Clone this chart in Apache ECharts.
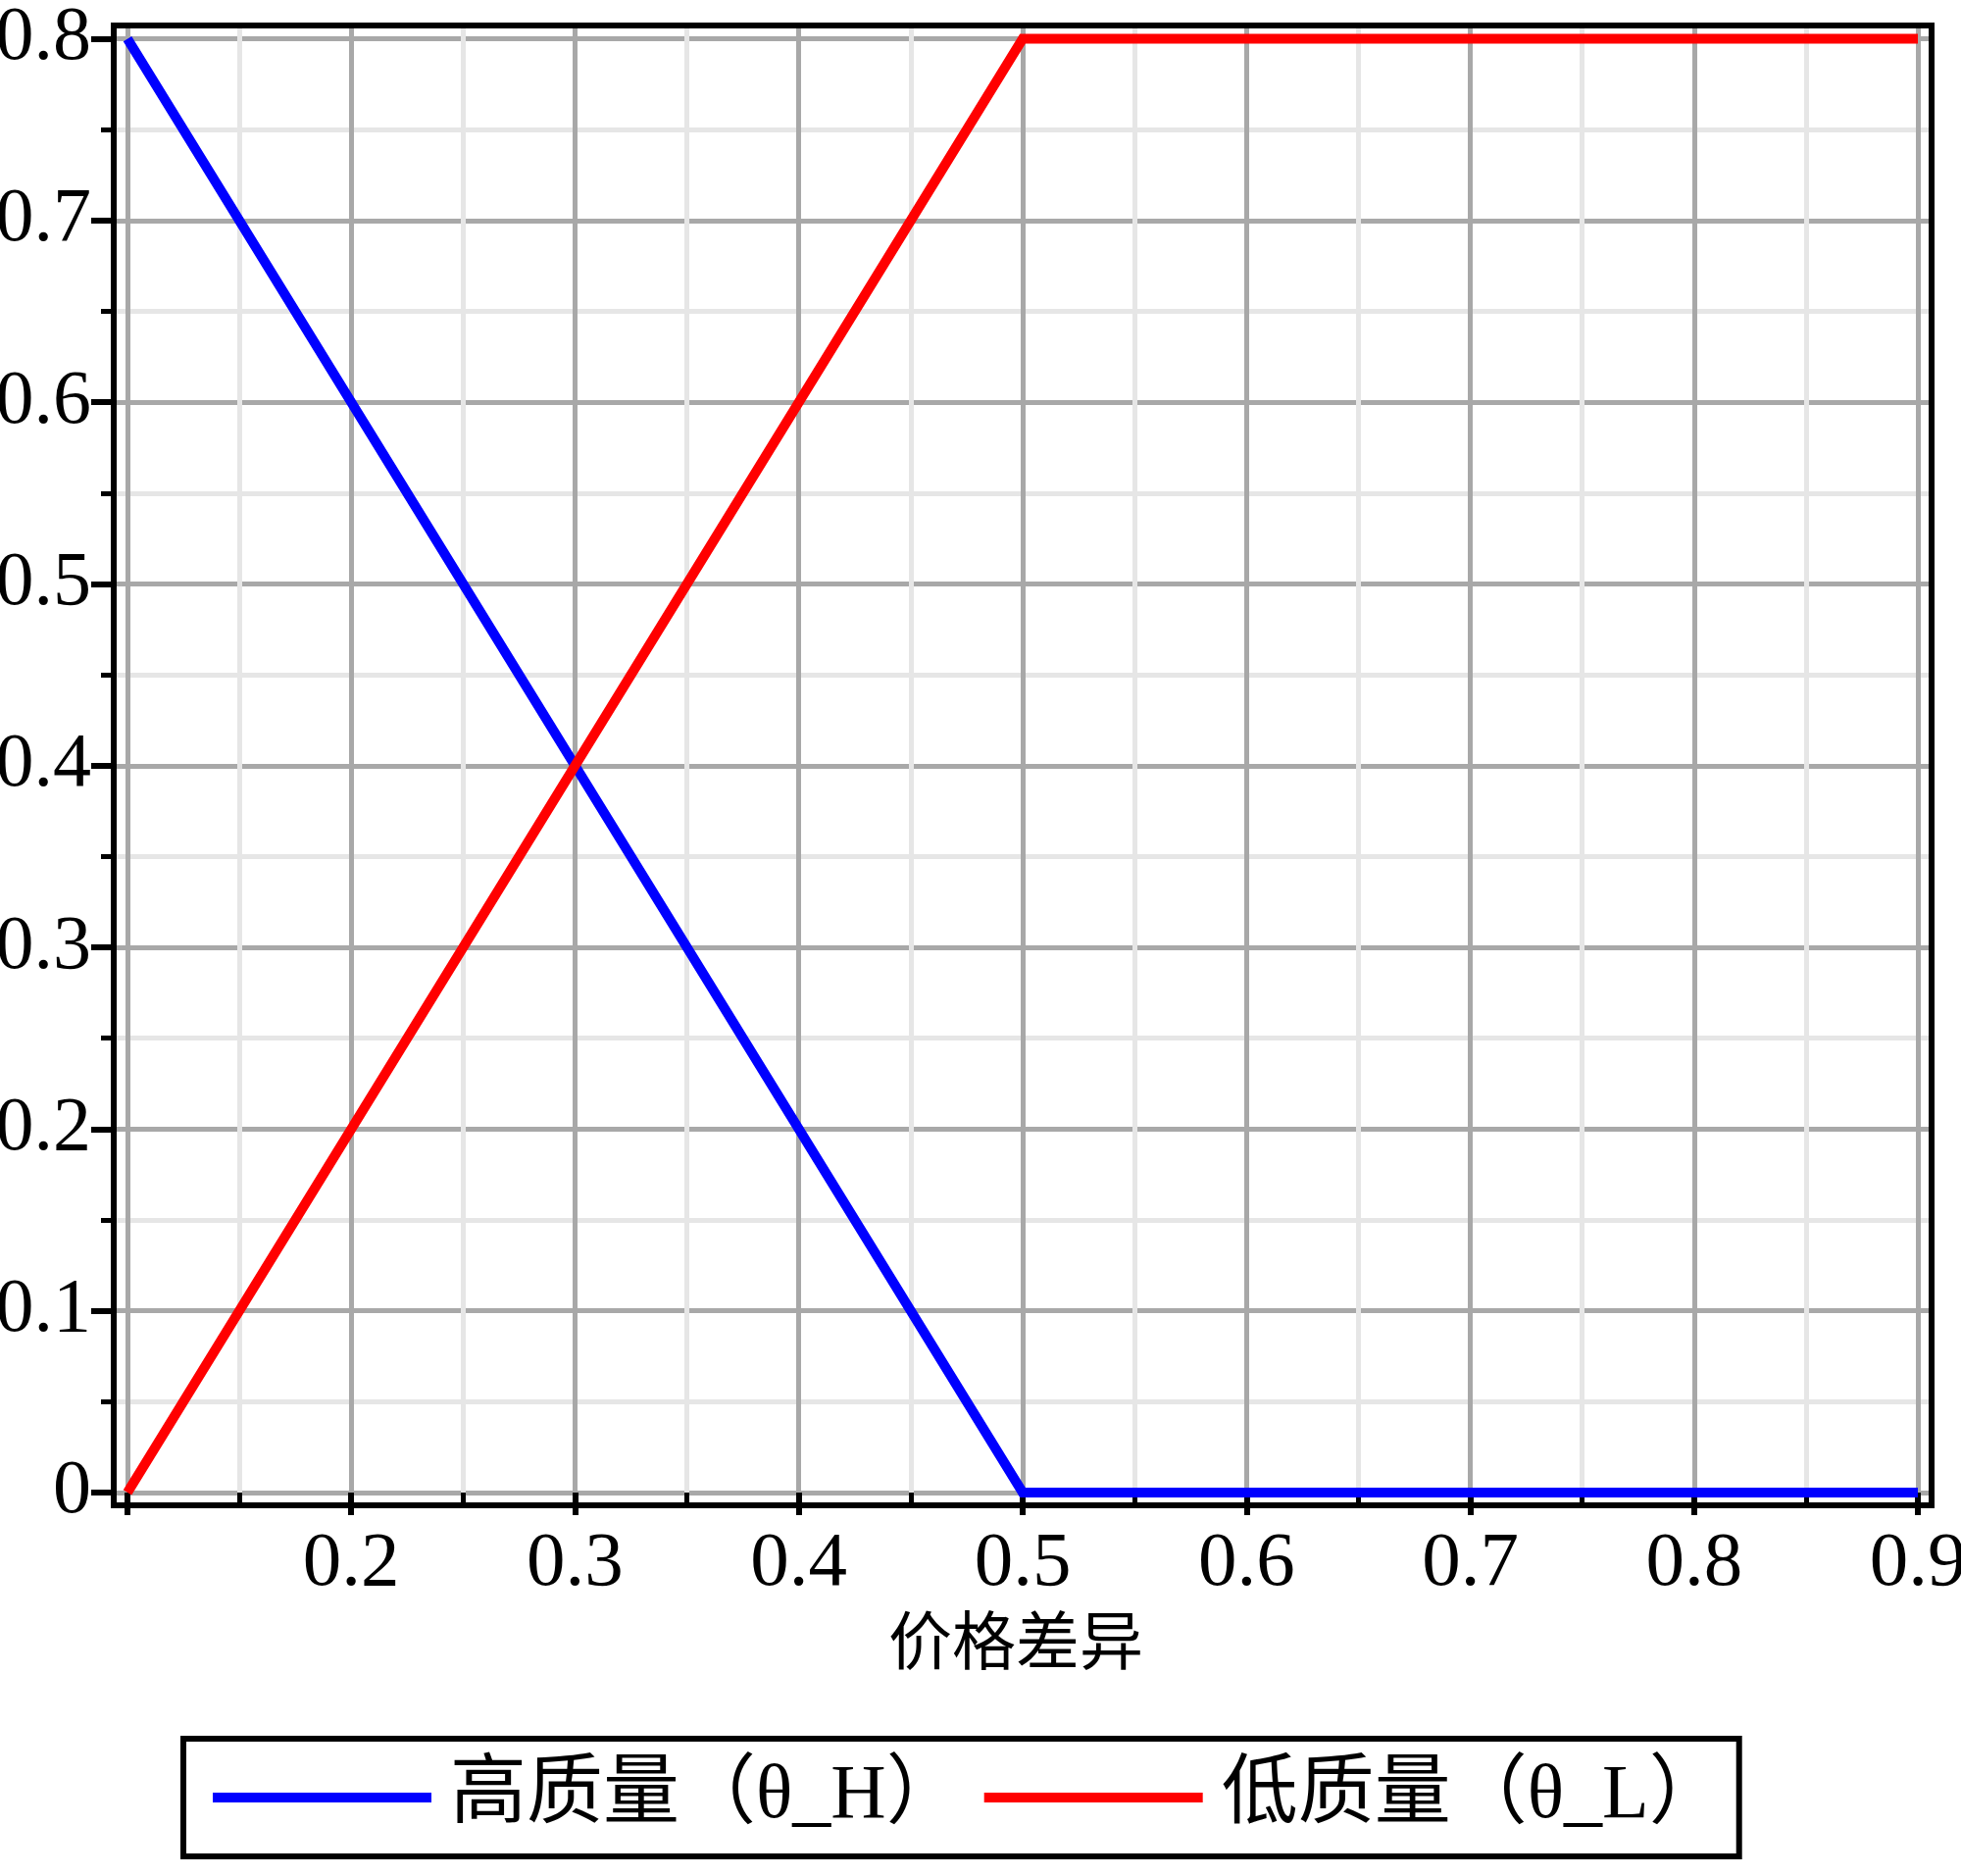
<!DOCTYPE html>
<html>
<head>
<meta charset="utf-8">
<script src="https://cdn.jsdelivr.net/npm/echarts@6/dist/echarts.min.js"></script>
<style>
html,body{margin:0;padding:0;background:#fff;}
#chart{width:2000px;height:1913px;}
</style>
</head>
<body>
<div id="chart"></div>
<script>
// ---- data ----
const xValues = [0.1, 0.5, 0.9];
const highQuality = [0.8, 0, 0];
const lowQuality = [0, 0.8, 0.8];
const seriesNames = ['高质量（θ_H）', '低质量（θ_L）'];
const xAxisName = '价格差异';

// ---- ticks ----
const xMajorTicks = [0.1, 0.2, 0.3, 0.4, 0.5, 0.6, 0.7, 0.8, 0.9];
const xMinorTicks = [0.15, 0.25, 0.35, 0.45, 0.55, 0.65, 0.75, 0.85];
const xTickLabels = [0.2, 0.3, 0.4, 0.5, 0.6, 0.7, 0.8, 0.9];
const yMajorTicks = [0, 0.1, 0.2, 0.3, 0.4, 0.5, 0.6, 0.7, 0.8];
const yMinorTicks = [0.05, 0.15, 0.25, 0.35, 0.45, 0.55, 0.65, 0.75];
const yTickLabels = [0, 0.1, 0.2, 0.3, 0.4, 0.5, 0.6, 0.7, 0.8];

// axis ranges (plot frame slightly wider than the data)
const xRange = [0.09387, 0.90613];
const yRange = [-0.00702, 0.80729];

const serif = "'Liberation Serif', 'Noto Sans CJK SC', serif";
const fmt = v => String(+(+v).toFixed(2));

const majorGrid = '#a8a8a8';
const minorGrid = '#e6e6e6';

function xAxisDef(major) {
  return {
    type: 'value', gridIndex: 0, position: 'bottom', offset: 0,
    min: xRange[0], max: xRange[1],
    axisLine: { show: false },
    axisTick: { show: true, inside: false, length: major ? 23 : 13,
      customValues: major ? xMajorTicks : xMinorTicks,
      lineStyle: { color: '#000', width: major ? 6 : 5 } },
    axisLabel: major ? { show: true, customValues: xTickLabels, formatter: fmt,
      fontSize: 79, fontFamily: serif, color: '#000', margin: 21, hideOverlap: false } : { show: false },
    splitLine: { show: true, lineStyle: { color: major ? majorGrid : minorGrid, width: 5 } },
    name: major ? xAxisName : '',
    nameLocation: 'middle', nameGap: 102,
    nameTextStyle: { fontSize: 65, fontFamily: "'Noto Sans CJK SC', sans-serif", color: '#000', padding: [0, 14, 0, 0] }
  };
}
function yAxisDef(major) {
  return {
    type: 'value', gridIndex: 0, position: 'left', offset: 0,
    min: yRange[0], max: yRange[1],
    axisLine: { show: false },
    axisTick: { show: true, inside: false, length: major ? 23 : 13,
      customValues: major ? yMajorTicks : yMinorTicks,
      lineStyle: { color: '#000', width: major ? 6 : 5 } },
    axisLabel: major ? { show: true, customValues: yTickLabels, formatter: fmt,
      fontSize: 78, fontFamily: serif, color: '#000', margin: 23, hideOverlap: false } : { show: false },
    splitLine: { show: true, lineStyle: { color: major ? majorGrid : minorGrid, width: 5 } }
  };
}

const chart = echarts.init(document.getElementById('chart'), null, { renderer: 'canvas' });
chart.setOption({
  animation: false,
  backgroundColor: '#fff',
  grid: { left: 116, right: 30, top: 26, bottom: 378, show: true, z: 10,
    containLabel: false, outerBoundsMode: 'none',
    backgroundColor: 'transparent', borderColor: '#000', borderWidth: 6 },
  xAxis: [xAxisDef(false), xAxisDef(true)],
  yAxis: [yAxisDef(false), yAxisDef(true)],
  legend: {
    left: 187, top: 1773,
    padding: [18, 14, 18, 30],
    borderColor: '#000', borderWidth: 6,
    icon: 'rect', itemWidth: 223, itemHeight: 10, itemGap: 22,
    data: seriesNames,
    textStyle: { fontSize: 78, lineHeight: 84, fontFamily: serif, color: '#000', padding: [0, 0, 0, 14] }
  },
  series: [
    { name: seriesNames[0], type: 'line', xAxisIndex: 1, yAxisIndex: 1,
      showSymbol: false, symbol: 'none', color: '#0000ff',
      lineStyle: { color: '#0000ff', width: 10, cap: 'butt', join: 'miter' },
      data: xValues.map((x, i) => [x, highQuality[i]]) },
    { name: seriesNames[1], type: 'line', xAxisIndex: 1, yAxisIndex: 1,
      showSymbol: false, symbol: 'none', color: '#ff0000',
      lineStyle: { color: '#ff0000', width: 10, cap: 'butt', join: 'miter' },
      data: xValues.map((x, i) => [x, lowQuality[i]]) }
  ]
});
</script>
</body>
</html>
